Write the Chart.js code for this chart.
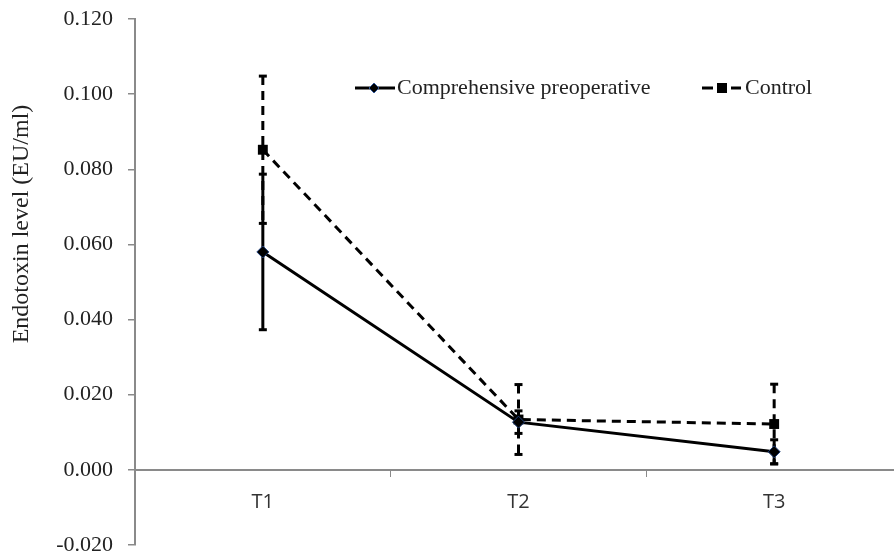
<!DOCTYPE html>
<html>
<head>
<meta charset="utf-8">
<script src="https://cdn.jsdelivr.net/npm/chart.js@4.4.1/dist/chart.umd.min.js"></script>
<style>
html, body { margin: 0; padding: 0; overflow: hidden; background: #fff; }
#wrap { position: relative; width: 910px; height: 557px; }
</style>
</head>
<body>
<div id="wrap"><canvas id="myChart"></canvas></div>
<script>
const ctx = document.getElementById('myChart').getContext('2d');

// 時点
const labels = ['T1', 'T2', 'T3'];

// 平均値と標準偏差
const comprehensive = [0.058, 0.0127, 0.0048];
const comprehensiveSd = [0.0207, 0.003, 0.0032];
const control = [0.0852, 0.0134, 0.0122];
const controlSd = [0.0196, 0.0093, 0.0106];

const yTitle = 'Endotoxin level (EU/ml)';
const axisColor = '#8a8a8a';
const textColor = '#222';
const serif = '"Liberation Serif", "Times New Roman", serif';

// エラーバー
const errorBars = {
    id: 'errorBars',
    beforeDatasetsDraw(chart) {
        const c = chart.ctx;
        const y = chart.scales.y;
        const sds = [comprehensiveSd, controlSd];
        chart.data.datasets.forEach((ds, i) => {
            const meta = chart.getDatasetMeta(i);
            c.save();
            c.strokeStyle = '#000';
            c.lineWidth = 3;
            c.setLineDash(ds.borderDash || []);
            meta.data.forEach((pt, j) => {
                const v = ds.data[j];
                const top = y.getPixelForValue(v + sds[i][j]);
                const bot = y.getPixelForValue(v - sds[i][j]);
                c.beginPath();
                c.moveTo(pt.x, top);
                c.lineTo(pt.x, bot);
                c.stroke();
            });
            c.setLineDash([]);
            meta.data.forEach((pt, j) => {
                const v = ds.data[j];
                [v + sds[i][j], v - sds[i][j]].forEach(e => {
                    const py = y.getPixelForValue(e);
                    c.beginPath();
                    c.moveTo(pt.x - 4, py);
                    c.lineTo(pt.x + 4, py);
                    c.stroke();
                });
            });
            c.restore();
        });
    }
};

// 凡例とY軸タイトル
const extras = {
    id: 'extras',
    afterDraw(chart) {
        const c = chart.ctx;
        c.save();
        c.fillStyle = textColor;
        c.font = '24px ' + serif;
        c.textAlign = 'center';
        c.textBaseline = 'middle';
        c.translate(22, 224);
        c.rotate(-Math.PI / 2);
        c.fillText(yTitle, 0, 0);
        c.restore();

        const ly = 88;
        c.save();
        c.strokeStyle = '#000';
        c.lineWidth = 3;
        // Comprehensive preoperative
        c.beginPath();
        c.moveTo(355, ly);
        c.lineTo(395, ly);
        c.stroke();
        c.beginPath();
        c.moveTo(374, ly - 5);
        c.lineTo(379, ly);
        c.lineTo(374, ly + 5);
        c.lineTo(369, ly);
        c.closePath();
        c.fillStyle = '#000';
        c.fill();
        c.lineWidth = 1;
        c.strokeStyle = '#2f5597';
        c.stroke();
        // Control
        c.strokeStyle = '#000';
        c.lineWidth = 3;
        c.beginPath();
        c.moveTo(702, ly); c.lineTo(713, ly);
        c.moveTo(731, ly); c.lineTo(741, ly);
        c.stroke();
        c.fillRect(717, ly - 5, 10, 10);

        c.fillStyle = textColor;
        c.font = '22px ' + serif;
        c.textAlign = 'left';
        c.textBaseline = 'middle';
        c.fillText(chart.data.datasets[0].label, 397, ly);
        c.fillText(chart.data.datasets[1].label, 745, ly);
        c.restore();
    }
};

const data = {
    labels: labels,
    datasets: [
        {
            label: 'Comprehensive preoperative',
            data: comprehensive,
            borderColor: '#000',
            borderWidth: 3,
            pointStyle: 'rectRot',
            pointRadius: 6,
            pointBackgroundColor: '#000',
            pointBorderColor: '#1f3f7a',
            pointBorderWidth: 1,
            tension: 0
        },
        {
            label: 'Control',
            data: control,
            borderColor: '#000',
            borderWidth: 3,
            borderDash: [9, 6],
            pointStyle: 'rect',
            pointRadius: 7,
            pointBackgroundColor: '#000',
            pointBorderColor: '#000',
            pointBorderWidth: 0,
            tension: 0
        }
    ]
};

const config = {
    type: 'line',
    data: data,
    options: {
        responsive: true,
        maintainAspectRatio: false,
        animation: false,
        layout: { padding: { top: 19, bottom: 12, left: 0, right: 8 } },
        scales: {
            x: {
                type: 'category',
                offset: true,
                position: { y: 0 },
                afterFit(scale) { scale.height = 0; },
                grid: { offset: true, drawOnChartArea: false, color: axisColor, tickLength: 6, lineWidth: 1 },
                border: { color: axisColor, width: 2 },
                ticks: { color: '#333', font: { family: '"Open Sans", sans-serif', size: 20 }, padding: 14 }
            },
            y: {
                min: -0.02,
                max: 0.12,
                afterFit(scale) {
                    scale.width = 135;
                    scale.paddingTop = 0;
                    scale.paddingBottom = 0;
                },
                ticks: {
                    stepSize: 0.02,
                    color: textColor,
                    font: { family: serif, size: 22 },
                    padding: 15,
                    callback: v => (Math.abs(v) < 1e-9 ? 0 : Number(v)).toFixed(3)
                },
                grid: { drawOnChartArea: false, color: axisColor, tickLength: 7, lineWidth: 1.5 },
                border: { color: axisColor, width: 2 }
            }
        },
        plugins: {
            legend: { display: false },
            tooltip: { enabled: false }
        }
    },
    plugins: [errorBars, extras]
};

const myChart = new Chart(ctx, config);
</script>
</body>
</html>
